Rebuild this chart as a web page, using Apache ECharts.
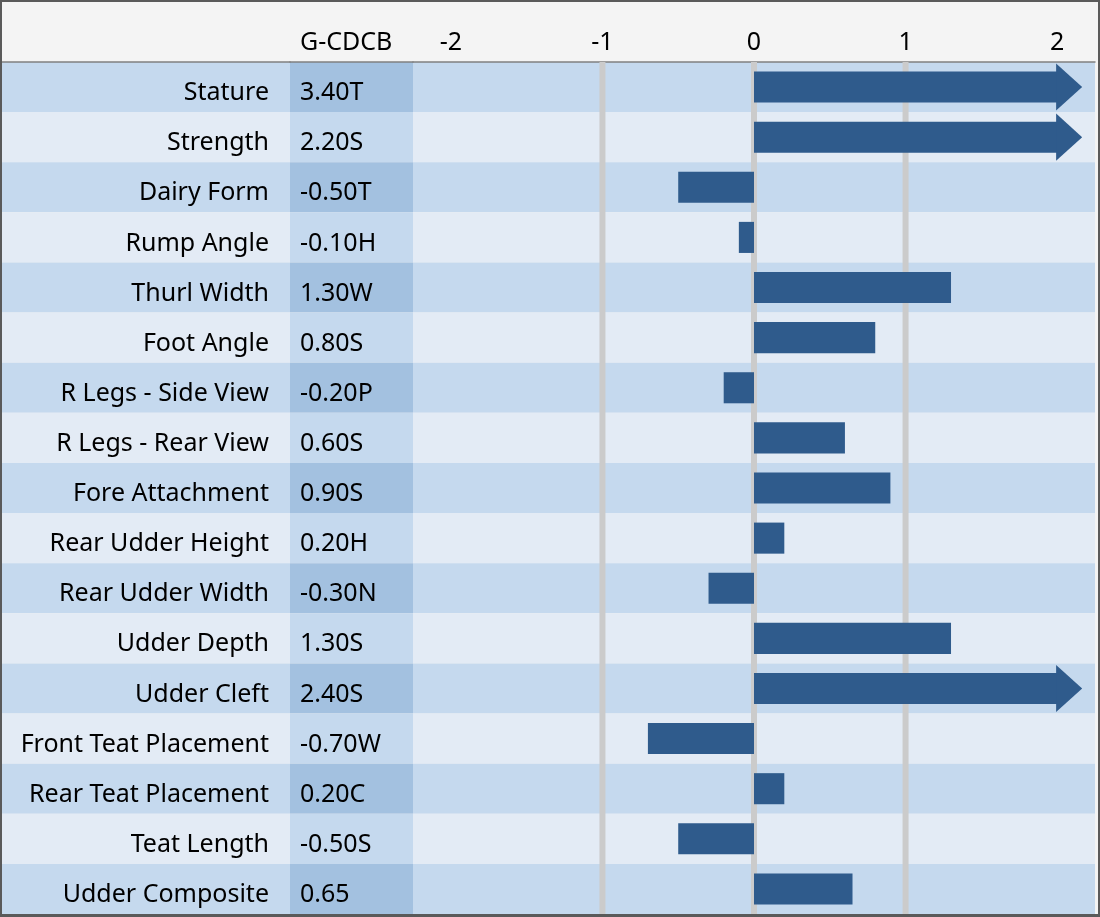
<!DOCTYPE html>
<html>
<head>
<meta charset="utf-8">
<script src="https://cdn.jsdelivr.net/npm/echarts@6/dist/echarts.min.js"></script>
<style>
  html, body { margin: 0; padding: 0; background: #ffffff; }
  #frame { width: 1100px; height: 917px; box-sizing: border-box; border: 2px solid #5a5a5a; border-bottom-width: 3px; background: #ffffff; }
  #chart { width: 1096px; height: 912px; }
</style>
</head>
<body>
<div id="frame"><div id="chart"></div></div>
<script>
// ---- data ----
const traits = ['Stature', 'Strength', 'Dairy Form', 'Rump Angle', 'Thurl Width', 'Foot Angle',
  'R Legs - Side View', 'R Legs - Rear View', 'Fore Attachment', 'Rear Udder Height',
  'Rear Udder Width', 'Udder Depth', 'Udder Cleft', 'Front Teat Placement',
  'Rear Teat Placement', 'Teat Length', 'Udder Composite'];
const gcdcbLabels = ['3.40T', '2.20S', '-0.50T', '-0.10H', '1.30W', '0.80S', '-0.20P', '0.60S',
  '0.90S', '0.20H', '-0.30N', '1.30S', '2.40S', '-0.70W', '0.20C', '-0.50S', '0.65'];
const values = [3.40, 2.20, -0.50, -0.10, 1.30, 0.80, -0.20, 0.60, 0.90, 0.20, -0.30,
  1.30, 2.40, -0.70, 0.20, -0.50, 0.65];
const tickLabels = [-2, -1, 0, 1, 2];
const gridLineValues = [-1, 0, 1];
const axisMin = -2.25, axisMax = 2.25, axisStep = 0.25;
const capValue = 2; // bars beyond this are drawn as arrows

// ---- styles ----
const FONT = 'Noto Sans';
const rowDark = '#c5d9ee', rowLight = '#e3ebf5';
const colDark = '#a3c1e0', colLight = '#c5d9ee';
const barColor = '#2f5b8c';
const lineColor = '#808080';

const chart = echarts.init(document.getElementById('chart'));

const hiddenX = (gi) => ({
  type: 'value', gridIndex: gi, position: 'top', min: 0, max: 1,
  axisLine: { show: true, onZero: false, lineStyle: { color: lineColor, width: 1.5 } },
  axisTick: { show: false }, axisLabel: { show: false }, splitLine: { show: false }
});

const option = {
  backgroundColor: '#f4f4f4',
  animation: false,
  title: {
    text: 'G-CDCB', left: 298, top: 28, padding: 0,
    textStyle: { fontFamily: FONT, fontSize: 25, fontWeight: 'normal', color: '#000' }
  },
  grid: [
    { left: 0, width: 288, top: 60, bottom: 0 },
    { left: 288, width: 123, top: 60, bottom: 0 },
    { left: 411, right: 1, top: 60, bottom: 0 }
  ],
  xAxis: [
    hiddenX(0),
    hiddenX(1),
    {
      type: 'value', gridIndex: 2, position: 'top',
      min: axisMin, max: axisMax, interval: axisStep,
      axisLine: { show: true, onZero: false, lineStyle: { color: lineColor, width: 1.5 } },
      axisTick: { show: false }, splitLine: { show: false },
      axisLabel: {
        margin: 7, fontFamily: FONT, fontSize: 25, color: '#000',
        formatter: (v) => tickLabels.some(t => Math.abs(t - v) < 1e-9) ? String(Math.round(v)) : ''
      }
    }
  ],
  yAxis: [
    {
      type: 'category', gridIndex: 0, data: traits, inverse: true, position: 'right',
      axisLine: { show: false }, axisTick: { show: false },
      axisLabel: { inside: true, margin: 21, verticalAlign: 'top', lineHeight: 12, fontFamily: FONT, fontSize: 25, color: '#000' },
      splitArea: { show: true, areaStyle: { color: [rowDark, rowLight] } }
    },
    {
      type: 'category', gridIndex: 1, data: gcdcbLabels, inverse: true, position: 'left',
      axisLine: { show: false }, axisTick: { show: false },
      axisLabel: { inside: true, margin: 10, verticalAlign: 'top', lineHeight: 12, fontFamily: FONT, fontSize: 25, color: '#000' },
      splitArea: { show: true, areaStyle: { color: [colDark, colLight] } }
    },
    {
      type: 'category', gridIndex: 2, data: traits, inverse: true,
      axisLine: { show: false }, axisTick: { show: false }, axisLabel: { show: false },
      splitArea: { show: true, areaStyle: { color: [rowDark, rowLight] } }
    }
  ],
  series: [
    {
      type: 'custom', xAxisIndex: 2, yAxisIndex: 2, z: 1, silent: true,
      data: gridLineValues.map(v => [v, 0]),
      encode: { x: 0, y: 1 },
      renderItem: (params, api) => {
        const cs = params.coordSys;
        const x = api.coord([api.value(0), 0])[0];
        return {
          type: 'rect',
          shape: { x: x - 3, y: cs.y, width: 6, height: cs.height },
          style: { fill: '#cbcbcb' }
        };
      }
    },
    {
      type: 'custom', xAxisIndex: 2, yAxisIndex: 2, z: 2,
      data: values.map((v, i) => [v, i]),
      encode: { x: 0, y: 1 },
      renderItem: (params, api) => {
        const v = api.value(0), idx = api.value(1);
        const shown = Math.min(v, capValue);
        const p0 = api.coord([0, idx]);
        const p1 = api.coord([shown, idx]);
        const band = api.size([0, 1])[1];
        const h = band * 0.62;
        const children = [{
          type: 'rect',
          shape: { x: Math.min(p0[0], p1[0]), y: p0[1] - h / 2, width: Math.abs(p1[0] - p0[0]), height: h },
          style: { fill: barColor }
        }];
        if (v > capValue) {
          const hh = band * 0.47;
          children.push({
            type: 'polygon',
            shape: { points: [[p1[0] - 1, p0[1] - hh], [p1[0] + band * 0.5, p0[1]], [p1[0] - 1, p0[1] + hh]] },
            style: { fill: barColor }
          });
        }
        return { type: 'group', children };
      }
    }
  ]
};
chart.setOption(option);
</script>
</body>
</html>
